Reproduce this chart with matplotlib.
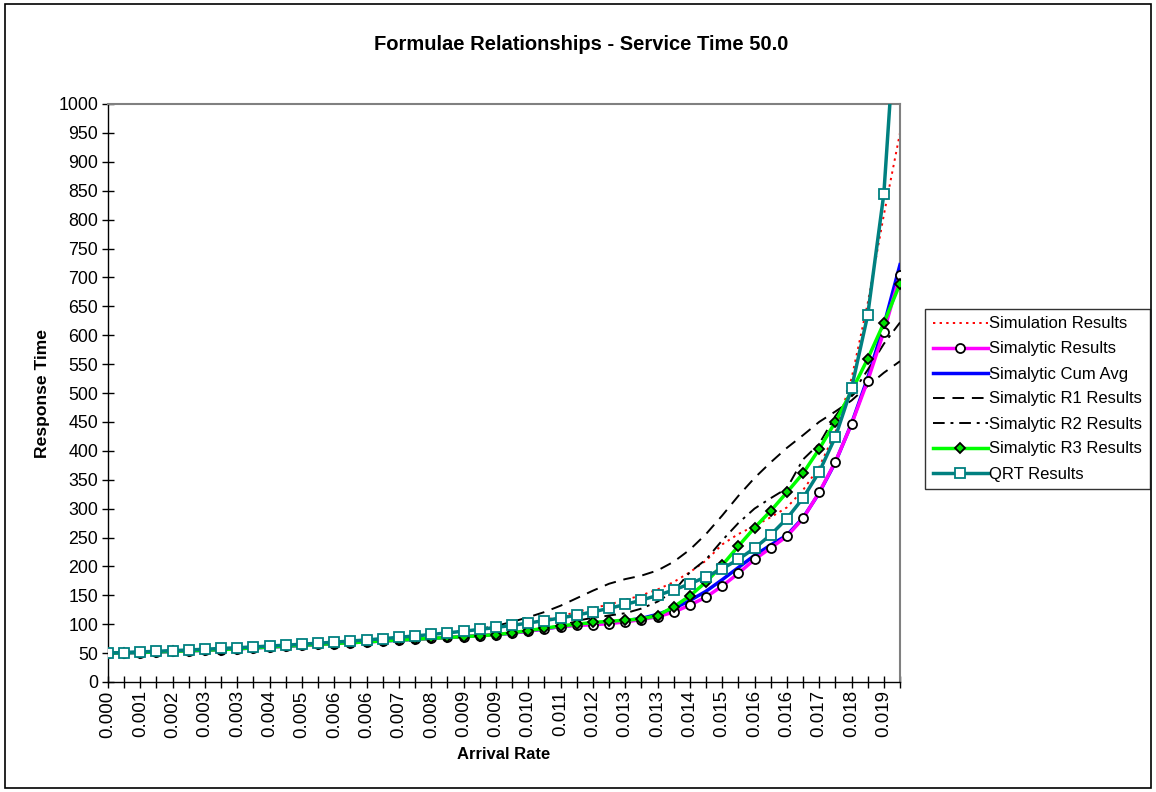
import matplotlib
matplotlib.use("Agg")
import matplotlib.pyplot as plt
from matplotlib.patches import Rectangle

plt.rcParams['font.family'] = ['Liberation Sans', 'DejaVu Sans']

# arrival-rate labels (shown on every second category)
rate_labels = ['0.000', '0.001', '0.002', '0.003', '0.003', '0.004', '0.005', '0.006',
               '0.006', '0.007', '0.008', '0.009', '0.009', '0.010', '0.011', '0.012',
               '0.013', '0.013', '0.014', '0.015', '0.016', '0.016', '0.017', '0.018', '0.019']

simulation = [50, 51, 52, 53.1, 54.3, 55.4, 56.7, 58, 59.3, 60.7, 62.2, 63.7, 65.4, 67.1,
              68.9, 70.8, 72.8, 75, 77.3, 79.7, 82.2, 85, 88, 91, 94.5, 98, 102, 107,
              114, 121, 128, 134, 142, 150, 160, 173, 190, 210, 238, 256, 270, 285, 302,
              332, 372, 432, 525, 655, 808, 950]
simalytic = [50, 50.5, 51, 52, 53, 54, 55, 56, 57.5, 59, 60.5, 62, 63.5, 65, 66.5, 68,
             69.5, 71, 72.5, 74, 75.5, 77, 78.5, 80, 82, 84.5, 88, 92, 96,
             98, 99, 101, 104, 108, 113, 121, 133, 147, 166, 188, 212, 232, 252, 283,
             328, 381, 446, 521, 606, 704]
cum_avg = [50, 50.5, 51, 52, 53, 54, 55, 56, 57.5, 59, 60.5, 62, 63.5, 65, 66.5, 68,
           69.5, 71, 72.5, 74, 75.5, 77, 78.5, 80, 82, 84.5, 88, 92, 96, 99, 101, 103, 106,
           110, 117, 127, 141, 157, 177, 198, 219, 237, 254, 284, 327, 380, 447, 526, 617, 722]
r1 = [50, 51, 52, 53, 54.3, 55.4, 56.7, 58, 59.3, 60.7, 62.2, 63.7, 65.4, 67.1, 68.9,
      70.8, 72.8, 75, 77.3, 79.7, 82.2, 85, 88, 92, 97,
      104, 112, 121, 132, 145, 158, 170, 178, 184, 193, 208, 229, 256, 288, 322, 353,
      380, 405, 427, 450, 468, 487, 512, 535, 555]
r2 = [50, 50.5, 51, 52, 53, 54, 55, 56, 57.5, 59, 60.5, 62, 63.5, 65, 66.5, 68,
      69.5, 71, 72.5, 74, 75.5, 77, 78.5, 80, 82, 84.5, 88, 92, 96,
      106, 111, 115, 119, 127, 139, 157, 190, 212, 245, 275, 300, 318, 335, 385, 412,
      460, 497, 540, 585, 622]
r3 = [50, 50.5, 51, 52, 53, 54, 55, 56, 57.5, 59, 60.5, 62, 63.5, 65, 66.5, 68,
      69.5, 71, 72.5, 74, 75.5, 77, 78.5, 80, 82, 85, 89, 93, 97,
      100, 103, 105, 107, 109, 115, 130, 149, 173, 202, 235, 267, 296, 328, 361, 403,
      450, 503, 559, 621, 689]
qrt = [50.0, 51.0, 52.0, 53.1, 54.3, 55.4, 56.7, 58.0, 59.3, 60.7, 62.2, 63.7, 65.4,
       67.1, 68.9, 70.8, 72.8, 75.0, 77.3, 79.7, 82.2, 85.0, 87.9, 91.0, 94.4, 98.0,
       102.0, 106.2, 110.8, 115.8, 121.4, 127.4, 134.1, 141.6, 149.9, 159.2, 169.8,
       182.0, 195.9, 212.2, 231.5, 254.6, 282.8, 318.1, 363.4, 423.7, 508.1, 634.5,
       844.6, 1262.6]

x = list(range(len(qrt)))

fig = plt.figure(figsize=(11.56, 7.92), dpi=100, facecolor='white')
fig.patches.append(Rectangle((0.004, 0.005), 0.992, 0.99, transform=fig.transFigure,
                             fill=False, edgecolor='black', linewidth=1.2))
ax = fig.add_axes([108 / 1156, 1 - 682 / 792, (900 - 108) / 1156, (682 - 104) / 792])

ax.plot(x, simulation, color='#FF0000', linestyle=(0, (1.2, 2.2)), linewidth=1.4,
        label='Simulation Results', zorder=2)
ax.plot(x, simalytic, color='#FF00FF', linewidth=2.5, marker='o', markersize=6.5,
        markerfacecolor='white', markeredgecolor='black', markeredgewidth=1.3,
        label='Simalytic Results', zorder=4)
ax.plot(x, cum_avg, color='#0000FF', linewidth=2.5, label='Simalytic Cum Avg', zorder=3)
ax.plot(x, r1, color='black', linestyle=(0, (6, 4)), linewidth=1.4,
        label='Simalytic R1 Results', zorder=3)
ax.plot(x, r2, color='black', linestyle=(0, (6, 3, 1.5, 3)), linewidth=1.4,
        label='Simalytic R2 Results', zorder=3)
ax.plot(x, r3, color='#00FF00', linewidth=2.5, marker='D', markersize=5.5,
        markerfacecolor='#00E000', markeredgecolor='black', markeredgewidth=1.3,
        label='Simalytic R3 Results', zorder=5)
ax.plot(x, qrt, color='#008080', linewidth=2.5, marker='s', markersize=7,
        markerfacecolor='white', markeredgecolor='#008080', markeredgewidth=1.3,
        label='QRT Results', zorder=6)

ax.set_xlim(0, len(qrt) - 1)
ax.set_ylim(0, 1000)
ax.set_yticks(range(0, 1001, 50))
ax.set_xticks(x[::2])
ax.set_xticklabels(rate_labels, rotation=90)
ax.set_xticks(x[1::2], minor=True)
ax.tick_params(axis='both', which='both', direction='inout', length=8, width=1,
               colors='black')
ax.tick_params(axis='x', labelsize=13.5, pad=2)
ax.tick_params(axis='y', labelsize=12.8, pad=3)

for side in ['top', 'right']:
    ax.spines[side].set_color('#808080')
    ax.spines[side].set_linewidth(1.5)
for side in ['left', 'bottom']:
    ax.spines[side].set_color('black')
    ax.spines[side].set_linewidth(1)

ax.set_xlabel('Arrival Rate', fontsize=12, fontweight='bold', labelpad=7)
ax.set_ylabel('Response Time', fontsize=12.6, fontweight='bold', labelpad=6)
fig.text(581 / 1156, 1 - 45 / 792, 'Formulae Relationships - Service Time 50.0',
         ha='center', va='center', fontsize=14.5, fontweight='bold')

leg = fig.legend(loc='center left', bbox_to_anchor=(925 / 1156, 1 - 399 / 792),
                 fontsize=12, frameon=True, fancybox=False, edgecolor='black',
                 handlelength=3.3, handletextpad=0.1, labelspacing=0.6,
                 borderpad=0.45, borderaxespad=0)
leg.get_frame().set_linewidth(1)

fig.savefig('out.png', dpi=100, facecolor='white')
